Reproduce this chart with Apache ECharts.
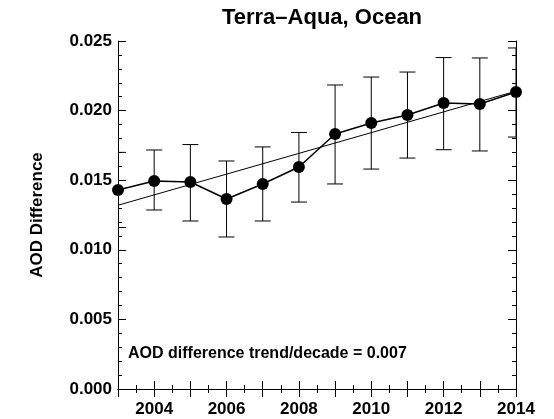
<!DOCTYPE html>
<html><head><meta charset="utf-8">
<script src="https://cdn.jsdelivr.net/npm/echarts@6/dist/echarts.min.js"></script>
<style>html,body{margin:0;background:#fff}#c{width:554px;height:419px}</style>
</head><body><div id="c"></div>
<script>
const years = [2003, 2004, 2005, 2006, 2007, 2008, 2009, 2010, 2011, 2012, 2013, 2014];
const aodDiff = [0.0143, 0.01494, 0.01487, 0.01365, 0.01473, 0.01595, 0.01832, 0.01911, 0.01968, 0.02055, 0.02047, 0.02134];
const errHigh = [0.0170, 0.01717, 0.01756, 0.01638, 0.01739, 0.01843, 0.02184, 0.02241, 0.02277, 0.02381, 0.02378, 0.0245];
const errLow = [0.0116, 0.01286, 0.01207, 0.01092, 0.01207, 0.01343, 0.01473, 0.01580, 0.01659, 0.01719, 0.01710, 0.0181];
const trendX = [2003, 2014];
const trendY = [0.0132, 0.0214];

const FONT = "Liberation Sans";
const inst = echarts.init(document.getElementById("c"));
const tick = () => ({ inside: false, length: -8, lineStyle: { color: "#000" } });
const minor = (n) => ({ show: true, splitNumber: n, length: -4, lineStyle: { color: "#000" } });
const lbl = { fontFamily: FONT, fontSize: 17, fontWeight: "bold", color: "#000" };

inst.setOption({
  animation: false,
  title: {
    text: "Terra\u2013Aqua, Ocean", left: 317, top: 2, textAlign: "center",
    textStyle: { fontFamily: FONT, fontSize: 22, fontWeight: "bold", color: "#000" },
  },
  grid: { left: 118, right: 38, top: 41, bottom: 30 },
  xAxis: [
    {
      type: "value", min: 2003, max: 2014, interval: 1,
      axisLine: { lineStyle: { color: "#000" } },
      axisTick: tick(), minorTick: minor(2), splitLine: { show: false },
      axisLabel: Object.assign({ margin: 12, formatter: (v) => (v % 2 === 0 ? String(v) : "") }, lbl),
    },
    {
      type: "value", min: 2003, max: 2014, interval: 1, position: "top",
      axisLine: { lineStyle: { color: "#000" } },
      axisTick: tick(), minorTick: minor(2), splitLine: { show: false }, axisLabel: { show: false },
    },
  ],
  yAxis: [
    {
      type: "value", min: 0, max: 0.025, interval: 0.005,
      name: "AOD Difference", nameLocation: "middle", nameGap: 72, nameRotate: 90,
      nameTextStyle: lbl,
      axisLine: { lineStyle: { color: "#000" } },
      axisTick: tick(), minorTick: minor(5), splitLine: { show: false },
      axisLabel: Object.assign({ margin: 6, formatter: (v) => v.toFixed(3) }, lbl),
    },
    {
      type: "value", min: 0, max: 0.025, interval: 0.005, position: "right",
      axisLine: { lineStyle: { color: "#000" } },
      axisTick: tick(), minorTick: minor(5), splitLine: { show: false }, axisLabel: { show: false },
    },
  ],
  graphic: [{
    type: "text", left: 128, top: 346,
    style: { text: "AOD difference trend/decade = 0.007", font: "bold 16px 'Liberation Sans'", fill: "#000" },
  }],
  series: [
    {
      type: "custom", clip: true,
      data: years.map((y, i) => [y, errLow[i], errHigh[i]]),
      renderItem: (params, api) => {
        const lo = api.coord([api.value(0), api.value(1)]);
        const hi = api.coord([api.value(0), api.value(2)]);
        const w = 8;
        const st = { stroke: "#000", lineWidth: 1 };
        return {
          type: "group", children: [
            { type: "line", shape: { x1: lo[0], y1: lo[1], x2: hi[0], y2: hi[1] }, style: st },
            { type: "line", shape: { x1: lo[0] - w, y1: lo[1], x2: lo[0] + w, y2: lo[1] }, style: st },
            { type: "line", shape: { x1: hi[0] - w, y1: hi[1], x2: hi[0] + w, y2: hi[1] }, style: st },
          ],
        };
      },
    },
    {
      type: "line", data: trendX.map((x, i) => [x, trendY[i]]),
      symbol: "none", lineStyle: { color: "#000", width: 1 },
    },
    {
      type: "line", data: years.map((y, i) => [y, aodDiff[i]]),
      symbol: "circle", symbolSize: 12, itemStyle: { color: "#000" },
      lineStyle: { color: "#000", width: 1.5 }, clip: true,
    },
  ],
});
</script></body></html>
